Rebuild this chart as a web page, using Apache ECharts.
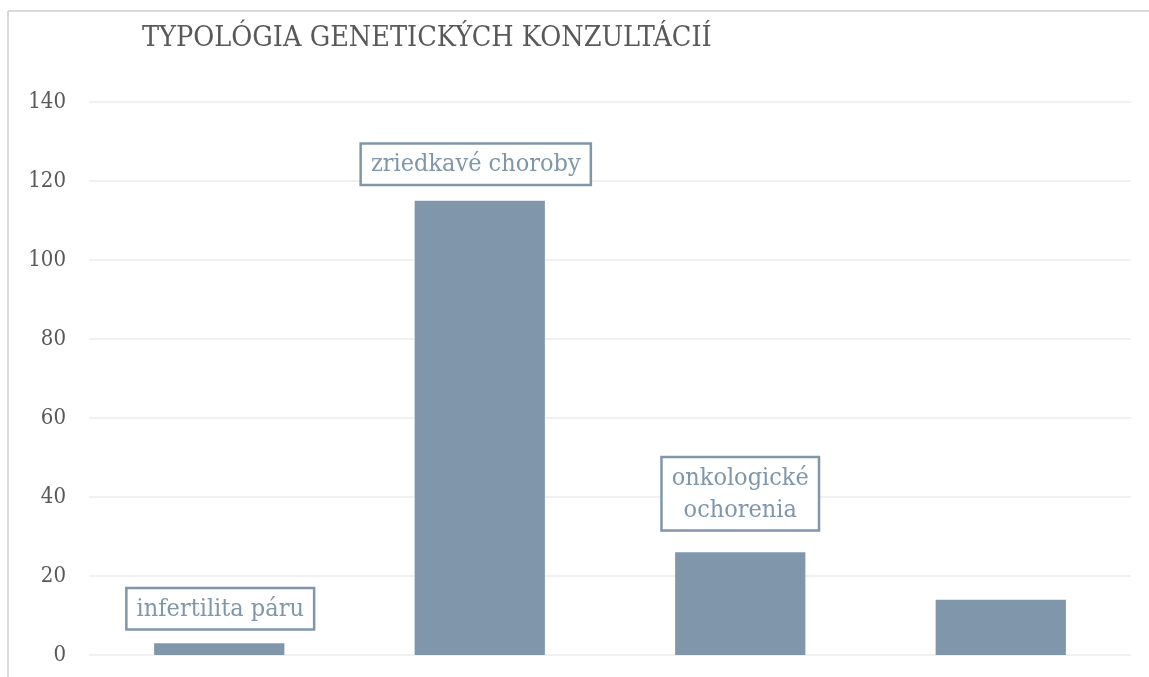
<!DOCTYPE html>
<html>
<head>
<meta charset="utf-8">
<script src="https://cdn.jsdelivr.net/npm/echarts@6/dist/echarts.min.js"></script>
<style>
  html, body { margin: 0; padding: 0; background: #fff; }
  #chart { width: 1149px; height: 677px; }
</style>
</head>
<body>
<div id="chart"></div>
<script>
// data
var categories = ['infertilita páru', 'zriedkavé choroby', 'onkologické\nochorenia', 'iné'];
var values = [3, 115, 26, 14];
var showLabel = [true, true, true, false];
var labelGap = [15, 17, 23, 0];
var labelShift = [1, -4, 0, 0];
var yTicks = { min: 0, max: 140, interval: 20 };

var barColor = '#7f96ab';
var serif = '"DejaVu Serif Condensed", "DejaVu Serif", serif';

var chart = echarts.init(document.getElementById('chart'));

var option = {
  animation: false,
  backgroundColor: '#fff',
  title: {
    text: 'TYPOLÓGIA GENETICKÝCH KONZULTÁCIÍ',
    left: 137,
    top: 19,
    textStyle: { fontFamily: serif, fontSize: 28.5, fontWeight: 'normal', color: '#595959' }
  },
  graphic: [
    { type: 'line', shape: { x1: 8, y1: 11, x2: 1149, y2: 11 }, style: { stroke: '#d9d9d9', lineWidth: 2 } },
    { type: 'line', shape: { x1: 8, y1: 11, x2: 8, y2: 677 }, style: { stroke: '#d9d9d9', lineWidth: 2 } }
  ],
  grid: { left: 89, right: 18, top: 102, bottom: 22, containLabel: false },
  xAxis: {
    type: 'category',
    data: categories,
    axisLine: { show: false },
    axisTick: { show: false },
    axisLabel: { show: false }
  },
  yAxis: {
    type: 'value',
    min: yTicks.min,
    max: yTicks.max,
    interval: yTicks.interval,
    axisLine: { show: false },
    axisTick: { show: false },
    splitLine: { lineStyle: { color: '#ededed', width: 1.5 } },
    axisLabel: { fontFamily: serif, fontSize: 22, color: '#595959', margin: 23 }
  },
  series: [{
    type: 'bar',
    barWidth: '50%',
    itemStyle: { color: barColor },
    data: values.map(function (v, i) {
      return {
        value: v,
        label: {
          show: showLabel[i],
          position: 'top',
          distance: labelGap[i],
          offset: [labelShift[i], 0],
          formatter: categories[i],
          fontFamily: serif,
          fontSize: 25,
          lineHeight: 32,
          color: barColor,
          backgroundColor: '#fff',
          borderColor: barColor,
          borderWidth: 2.5,
          padding: [4, 9, 3, 9]
        }
      };
    })
  }]
};

chart.setOption(option);
</script>
</body>
</html>
